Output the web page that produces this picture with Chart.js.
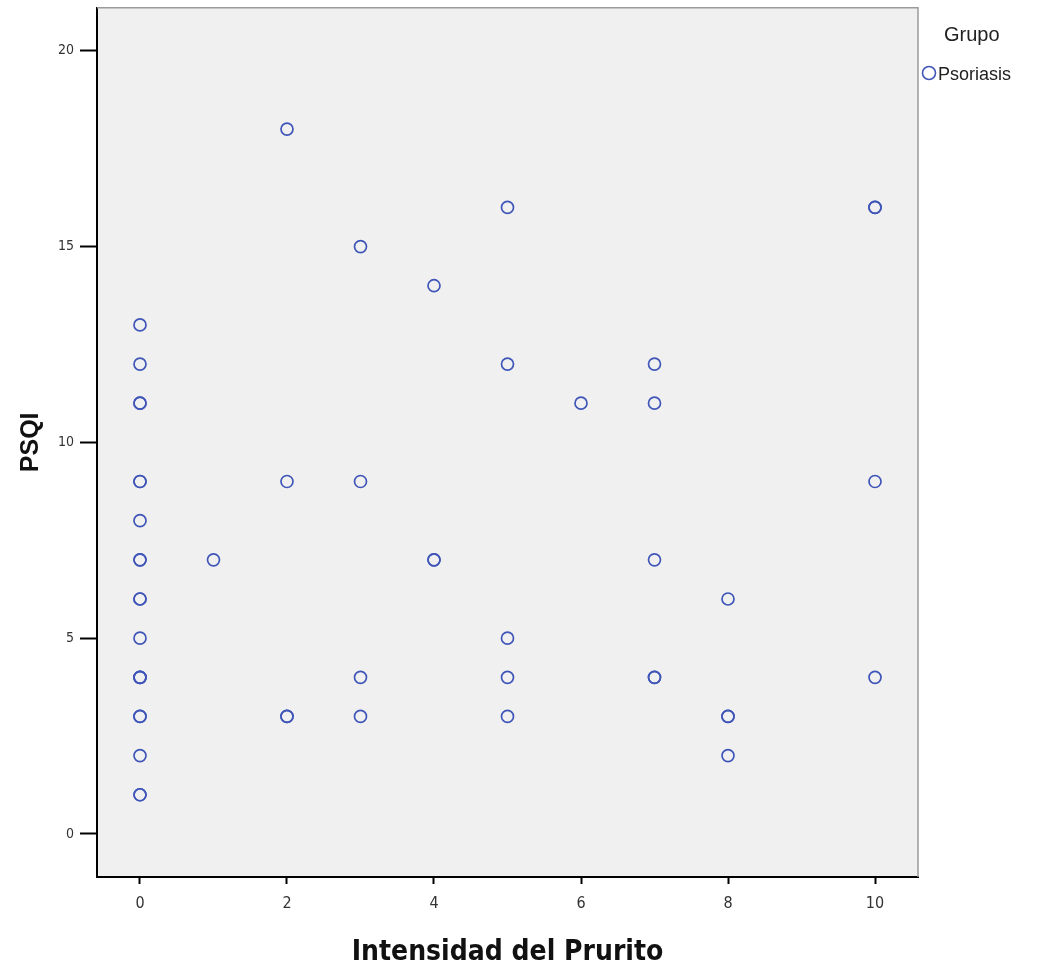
<!DOCTYPE html>
<html>
<head>
<meta charset="utf-8">
<script src="https://cdn.jsdelivr.net/npm/chart.js@4.4.1/dist/chart.umd.min.js"></script>
<style>
  html, body { margin: 0; padding: 0; background: #ffffff; }
  #wrap { width: 1039px; height: 970px; }
</style>
</head>
<body>
<div id="wrap"><canvas id="psqi-canvas" width="1039" height="970"></canvas></div>
<script>
// Intensidad del prurito (x) vs PSQI (y), grupo Psoriasis
var prurito = [0, 0, 0, 0, 0, 0, 0, 0, 0, 0, 0, 0, 0, 0, 0, 0, 0, 0, 0, 0,
               1,
               2, 2, 2, 2,
               3, 3, 3, 3,
               4, 4, 4,
               5, 5, 5, 5, 5,
               6,
               7, 7, 7, 7, 7,
               8, 8, 8, 8,
               10, 10, 10, 10];
var psqi    = [13, 12, 11, 11, 9, 9, 8, 7, 7, 6, 6, 5, 4, 4, 4, 3, 3, 2, 1, 1,
               7,
               18, 9, 3, 3,
               15, 9, 4, 3,
               14, 7, 7,
               16, 12, 5, 4, 3,
               11,
               12, 11, 7, 4, 4,
               6, 3, 3, 2,
               16, 16, 9, 4];
var xTicks = [0, 2, 4, 6, 8, 10];
var yTicks = [0, 5, 10, 15, 20];
var grupo = 'Psoriasis';

var puntos = [];
for (var i = 0; i < prurito.length; i++) {
    puntos.push({x: prurito[i], y: psqi[i]});
}

var markColor = '#3f55b8';

// gray plot area, frame lines on top/right and the legend block
var framePlugin = {
    id: 'frameLegend',
    beforeDraw: function(chart) {
        var ctx = chart.ctx;
        var a = chart.chartArea;
        ctx.save();
        ctx.fillStyle = '#f0f0f0';
        ctx.fillRect(a.left, a.top, a.right - a.left, a.bottom - a.top);
        ctx.restore();
    },
    beforeDatasetsDraw: function(chart) {
        var ctx = chart.ctx;
        var a = chart.chartArea;
        ctx.save();
        ctx.strokeStyle = '#9a9a9a';
        ctx.lineWidth = 1.5;
        ctx.beginPath();
        ctx.moveTo(a.left, a.top);
        ctx.lineTo(a.right, a.top);
        ctx.lineTo(a.right, a.bottom);
        ctx.stroke();
        ctx.restore();
    },
    afterDraw: function(chart) {
        var ctx = chart.ctx;
        ctx.save();
        ctx.fillStyle = '#222';
        ctx.font = '20px "Liberation Sans", Arial, sans-serif';
        ctx.textBaseline = 'middle';
        ctx.fillText('Grupo', 944, 35);
        ctx.font = '18px "Liberation Sans", Arial, sans-serif';
        ctx.fillText(grupo, 938, 75);
        ctx.strokeStyle = markColor;
        ctx.lineWidth = 1.6;
        ctx.beginPath();
        ctx.arc(929, 73, 6.5, 0, Math.PI * 2);
        ctx.stroke();
        ctx.restore();
    }
};

var ctx = document.getElementById('psqi-canvas').getContext('2d');
var chartObj = new Chart(ctx, {
    type: 'scatter',
    data: {
        datasets: [{
            label: grupo,
            data: puntos,
            pointStyle: 'circle',
            pointRadius: 6,
            pointBorderWidth: 1.7,
            pointBorderColor: markColor,
            pointBackgroundColor: 'rgba(0,0,0,0)'
        }]
    },
    options: {
        responsive: false,
        animation: false,
        layout: { padding: { left: 0, right: 121, top: 7, bottom: 0 } },
        plugins: {
            legend: { display: false },
            tooltip: { enabled: false }
        },
        scales: {
            x: {
                type: 'linear',
                min: -0.585,
                max: 10.585,
                afterBuildTicks: function(scale) {
                    scale.ticks = xTicks.map(function(v) { return {value: v}; });
                },
                afterFit: function(scale) {
                    scale.height = 93;
                    scale.paddingLeft = 0;
                    scale.paddingRight = 0;
                },
                grid: { drawOnChartArea: false, color: '#000', tickLength: 7, tickWidth: 2 },
                border: { color: '#000', width: 2 },
                ticks: {
                    color: '#333',
                    padding: 10,
                    font: { size: 16, family: '"DejaVu Sans Condensed", "DejaVu Sans", sans-serif' }
                },
                title: {
                    display: true,
                    text: 'Intensidad del Prurito',
                    color: '#111',
                    padding: { top: 10, bottom: 0 },
                    font: { size: 28, weight: 'bold', family: '"DejaVu Sans Condensed", "DejaVu Sans", sans-serif' }
                }
            },
            y: {
                type: 'linear',
                min: -1.1,
                max: 21.1,
                afterBuildTicks: function(scale) {
                    scale.ticks = yTicks.map(function(v) { return {value: v}; });
                },
                afterFit: function(scale) {
                    scale.width = 97;
                    scale.paddingTop = 0;
                    scale.paddingBottom = 0;
                },
                grid: { drawOnChartArea: false, color: '#000', tickLength: 17, tickWidth: 2 },
                border: { color: '#000', width: 2 },
                ticks: {
                    color: '#333',
                    padding: 6,
                    font: { size: 14, family: '"DejaVu Sans Condensed", "DejaVu Sans", sans-serif' }
                },
                title: {
                    display: true,
                    text: 'PSQI',
                    color: '#111',
                    padding: { top: 16, bottom: 0 },
                    font: { size: 25, weight: 'bold', family: '"Liberation Sans", Arial, sans-serif' }
                }
            }
        }
    },
    plugins: [framePlugin]
});
</script>
</body>
</html>
